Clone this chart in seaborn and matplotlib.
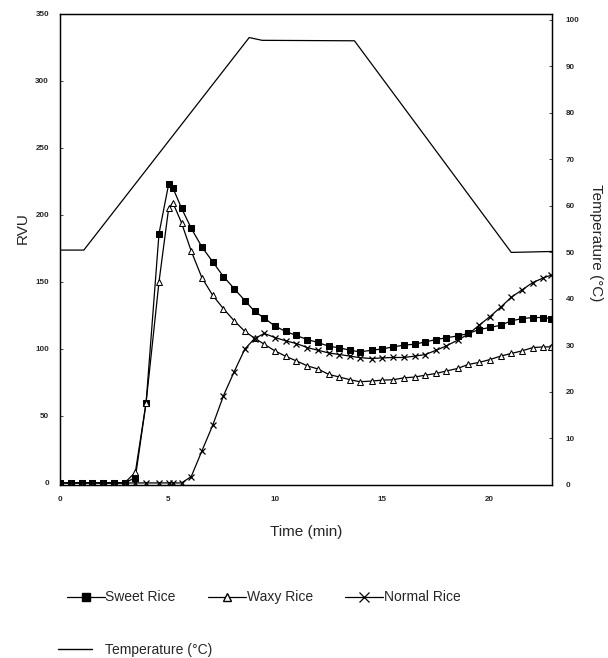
import numpy as np
import pandas as pd
import seaborn as sns
import matplotlib.pyplot as plt
from matplotlib.lines import Line2D

# ~~~ Data ~~~
time_min = [0, 0.5, 1.0, 1.5, 2.0, 2.5, 3.0, 3.5, 4.0, 4.6, 5.05, 5.25, 5.65, 6.1,
            6.6, 7.1, 7.6, 8.1, 8.6, 9.05, 9.5, 10.0, 10.5, 11.0, 11.5, 12.0, 12.5,
            13.0, 13.5, 13.95, 14.5, 15.0, 15.5, 16.0, 16.5, 17.0, 17.5, 17.95, 18.5,
            19.0, 19.5, 20.0, 20.5, 21.0, 21.5, 22.0, 22.5, 22.85]

sweet_rice = [0, 0, 0, 0, 0, 0, 0, 4, 60, 186, 223, 220, 205, 190,
              176, 165, 154, 145, 136, 128, 123, 117, 113, 110, 107, 104.8, 102,
              100.8, 99, 97.8, 99, 100, 101.5, 102.8, 103.5, 105.2, 107, 108.2, 109.7,
              111.5, 114.4, 116, 117.6, 120.9, 122.6, 123.4, 123.4, 122.6]

waxy_rice = [0, 0, 0, 0, 0, 0, 0, 8, 60, 150, 205, 209, 194, 173,
             153, 140, 130, 121, 113, 108, 103.5, 98.5, 94.5, 91, 87.4, 85, 81,
             79, 77, 75.5, 76, 76.7, 77, 78.4, 79, 80.4, 81.7, 83.4, 85.4,
             88.4, 89.9, 92, 94.6, 96.6, 98.5, 101, 101.5, 101.5]

normal_rice = [0, 0, 0, 0, 0, 0, 0, 0, 0, 0, 0, 0, 0, 4.7,
               24, 43, 65, 83, 100, 107.7, 111.5, 108.5, 106, 104, 101, 99, 97,
               95.8, 94.6, 93.5, 92.8, 93.3, 93.6, 93.6, 94.6, 95.8, 99, 102, 106.5,
               111, 117.6, 124, 131, 138.5, 144, 149.5, 153, 155]

temp_time = [0, 1.1, 8.8, 9.4, 13.7, 21.0, 22.9]
temp_c = [50.5, 50.5, 96.2, 95.6, 95.5, 50.0, 50.2]

df = pd.DataFrame({
    "time": time_min,
    "Sweet Rice": sweet_rice,
    "Waxy Rice": waxy_rice,
    "Normal Rice": normal_rice,
})
df_temp = pd.DataFrame({"time": temp_time, "temp": temp_c})

sns.set_style("white")
plt.rcParams["font.family"] = ["Liberation Sans", "DejaVu Sans"]

fig = plt.figure(figsize=(6.08, 6.58), dpi=100)
ax = fig.add_axes([0.099, 0.263, 0.809, 0.716])

styles = {
    "Sweet Rice": dict(marker="s", markerfacecolor="black", markeredgecolor="black", markersize=4.5),
    "Waxy Rice": dict(marker="^", markerfacecolor="white", markeredgecolor="black", markersize=5),
    "Normal Rice": dict(marker="x", markeredgecolor="black", markersize=5, markeredgewidth=0.9),
}
for name, st in styles.items():
    sns.lineplot(data=df, x="time", y=name, ax=ax, color="black", linewidth=0.9, **st)

ax.set_xlim(0, 22.9)
ax.set_ylim(-1.5, 350)
ax.set_xticks([0, 5, 10, 15, 20])
ax.set_yticks(range(0, 351, 50))
ax.set_xlabel("Time (min)", fontsize=11, labelpad=16)
ax.set_ylabel("RVU", fontsize=11, va="center", ha="center")
ax.yaxis.set_label_coords(-0.077, 0.546)

ax2 = ax.twinx()
sns.lineplot(data=df_temp, x="time", y="temp", ax=ax2, color="black", linewidth=0.9)
ax2.set_ylim(0.6, 101.3)
ax2.set_yticks(range(0, 101, 10))
ax2.set_ylabel("Temperature (\u00b0C)", fontsize=11, rotation=-90, va="center", ha="center")
ax2.yaxis.set_label_coords(1.09, 0.514)

for a in (ax, ax2):
    a.tick_params(axis="both", labelsize=5.8, length=2, direction="in", width=0.6)
    for lab in a.get_xticklabels() + a.get_yticklabels():
        lab.set_fontweight("bold")
    for sp in a.spines.values():
        sp.set_linewidth(0.9)
        sp.set_color("black")
ax.tick_params(axis="y", pad=8)
ax.tick_params(axis="x", pad=8)
ax2.tick_params(axis="y", pad=10)

# ~~~ Legends below the plot ~~~
leg_sizes = {"Sweet Rice": 6, "Waxy Rice": 6, "Normal Rice": 6.5}
handles = [Line2D([], [], color="black", linewidth=0.9, **{**st, "markersize": leg_sizes[k]})
           for k, st in styles.items()]
fig.legend(handles, list(styles.keys()), loc="center left",
           bbox_to_anchor=(0.09, 0.092), ncol=3, frameon=False,
           fontsize=10, handlelength=2.7, handletextpad=0.05, columnspacing=2.35)
temp_handle = [Line2D([], [], color="black", linewidth=1.0)]
fig.legend(temp_handle, ["Temperature (\u00b0C)"], loc="center left",
           bbox_to_anchor=(0.075, 0.012), frameon=False, fontsize=10,
           handlelength=2.45, handletextpad=0.94)

fig.savefig("out.png", dpi=100)
